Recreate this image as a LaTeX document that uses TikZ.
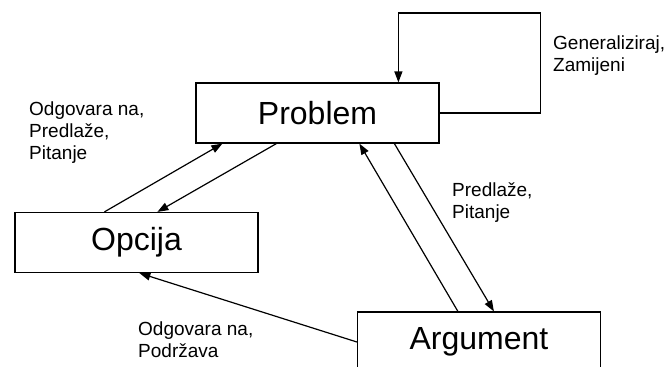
\documentclass[tikz,border=0pt]{standalone}
\usepackage{fontspec}
\setmainfont{Liberation Sans}
\usetikzlibrary{arrows.meta}
\begin{document}
\begin{tikzpicture}[x=1pt,y=-1pt,
  box/.style={draw,line width=1.2pt,minimum width=243pt,minimum height=60pt,inner sep=0pt,
    font=\fontsize{32}{38}\selectfont},
  lbl/.style={anchor=north west,inner sep=0pt,align=left,font=\fontsize{19}{22}\selectfont},
  arr/.style={line width=1.2pt,-{Triangle[length=11pt,width=8pt]}},
  ln/.style={line width=1.2pt}]
\useasboundingbox (0,0) rectangle (670,367);
\fill[white] (0,0) rectangle (670,367);

% the three boxes
\node[box] (problem) at (317.5,113) {Problem};
\node[box] (opcija) at (136.5,242.5) {Opcija};
\node[box] (argument) at (479,342) {Argument};

% self loop on Problem
\draw[arr] (problem.east) -- ++(101,0) -- ++(0,-100) -| ([xshift=203pt]problem.north west);

% Problem <-> Opcija
\draw[arr] ([xshift=90pt]opcija.north west) -- ([xshift=27pt]problem.south west);
\draw[arr] ([xshift=81pt]problem.south west) -- ([xshift=143pt]opcija.north west);

% Problem <-> Argument
\draw[arr] ([xshift=101pt]argument.north west) -- ([xshift=164pt]problem.south west);
\draw[arr] ([xshift=199pt]problem.south west) -- ([xshift=137pt]argument.north west);

% Argument -> Opcija
\draw[arr] (argument.west) -- ([xshift=125pt]opcija.south west);

% labels
\node[lbl] (l1) at (553,36) {Generaliziraj,\\Zamijeni};
\node[lbl] (l2) at (29,102) {Odgovara na,\\Predlaže,\\Pitanje};
\node[lbl] (l3) at (452,182) {Predlaže,\\Pitanje};
\node[lbl] (l4) at (138,322) {Odgovara na,\\Podržava};
\end{tikzpicture}
\end{document}
